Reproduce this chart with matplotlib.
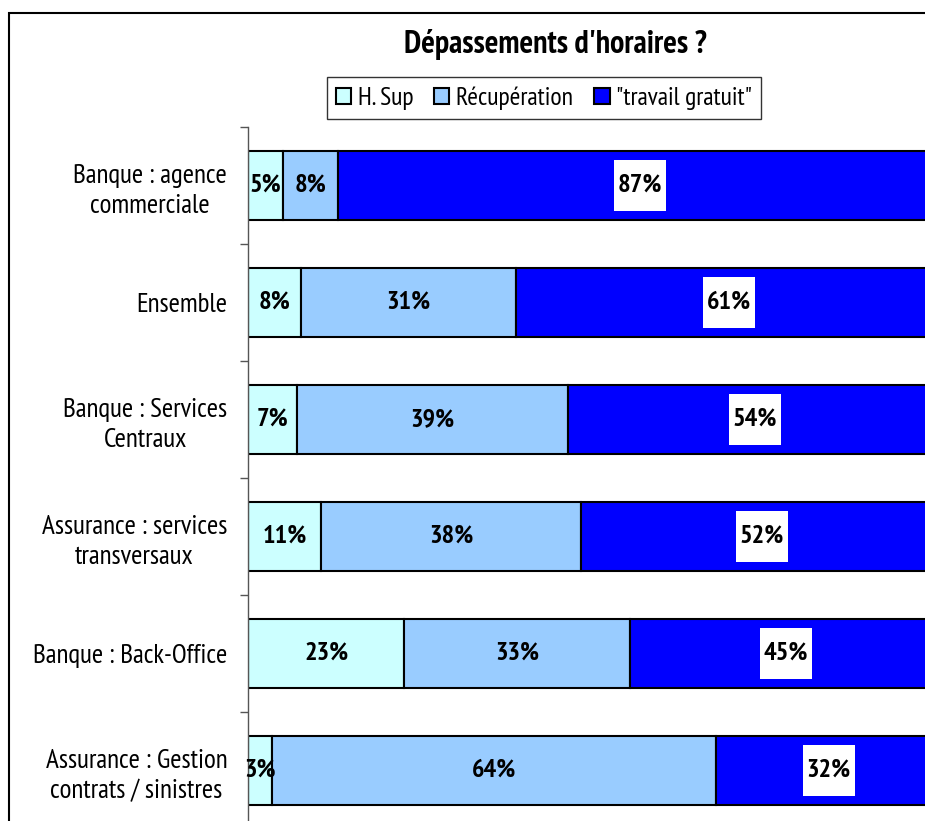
import matplotlib.pyplot as plt
from matplotlib import font_manager
from matplotlib.patches import Rectangle
from matplotlib.ticker import FixedLocator

# pick a narrow sans font close to Arial Narrow, preferring one that has a bold face
wanted = ['Liberation Sans Narrow', 'Arial Narrow', 'Archivo Narrow', 'PT Sans Narrow',
          'Roboto Condensed', 'Pragati Narrow', 'Liberation Sans']
faces = {}
for f in font_manager.fontManager.ttflist:
    faces.setdefault(f.name, set()).add(f.weight)
with_bold = [n for n in wanted if n in faces and any(
    (w if isinstance(w, int) else 700 if w == 'bold' else 400) >= 700 for w in faces[n])]
chosen = (with_bold or [n for n in wanted if n in faces] or ['DejaVu Sans'])[0]
plt.rcParams['font.family'] = [chosen, 'DejaVu Sans']

# data (percent of respondents)
categories = ["Banque : agence\ncommerciale", "Ensemble", "Banque : Services\nCentraux",
              "Assurance : services\ntransversaux", "Banque : Back-Office",
              "Assurance : Gestion\ncontrats / sinistres"]
h_sup = [5.0, 7.6, 7.1, 10.5, 22.5, 3.4]
recup = [8.0, 31.0, 39.0, 37.5, 32.5, 64.1]
gratuit = [87.0, 61.4, 53.9, 52.0, 45.0, 32.4]
series_names = ["H. Sup", "Récupération", "\"travail gratuit\""]
colors = ["#CCFFFF", "#99CCFF", "#0000FF"]

W, H = 925, 821
fig = plt.figure(figsize=(W / 100, H / 100), dpi=100)

# outer chart frame (clipped on right and bottom like the original)
fig.patches.append(Rectangle((9 / W, -0.05), 1.1, 1 - 13 / H + 0.05, transform=fig.transFigure,
                             fill=False, edgecolor='black', linewidth=1.5))

# plot area runs past the right / bottom edge of the picture
ax = fig.add_axes([248 / W, (H - 829) / H, 694 / W, 702 / H])
ax.patch.set_alpha(0)

y = list(range(len(categories)))
left = [0] * len(categories)
for vals, name, col in zip([h_sup, recup, gratuit], series_names, colors):
    bars = ax.barh(y, vals, left=left, height=0.59, color=col, edgecolor='black',
                   linewidth=1.5, label=name)
    for b, v in zip(bars, vals):
        cx = b.get_x() + b.get_width() / 2
        cy = b.get_y() + b.get_height() / 2
        if col == "#0000FF":
            # tall white label box like the Excel original
            ax.add_patch(Rectangle((cx - 3.75, cy - 0.215), 7.5, 0.43, facecolor='white',
                                   edgecolor='none', zorder=3))
        ax.text(cx, cy, f"{int(v + 0.5)}%", ha='center', va='center',
                fontsize=19, fontweight='bold', zorder=4)
    left = [l + v for l, v in zip(left, vals)]

ax.set_xlim(0, 100)
ax.set_ylim(len(categories) - 0.5, -0.5)
ax.set_xticks([])
ax.set_yticks(y)
ax.set_yticklabels(categories, fontsize=19.5)
for lab in ax.get_yticklabels():
    lab.set_multialignment('center')
    lab.set_linespacing(1.3)
ax.tick_params(axis='y', which='major', length=0, pad=15)
ax.yaxis.set_minor_locator(FixedLocator([i - 0.5 for i in range(len(categories) + 1)]))
ax.tick_params(axis='y', which='minor', length=6, width=1, color='#555555', direction='out')
for s in ['top', 'right', 'bottom']:
    ax.spines[s].set_visible(False)
ax.spines['left'].set_color('#555555')
ax.spines['left'].set_linewidth(1)

fig.text(555 / W, 1 - 45 / H, "Dépassements d'horaires ?", ha='center', va='center',
         fontsize=23, fontweight='bold')

leg = fig.legend(loc='center', bbox_to_anchor=(544 / W, 1 - 98 / H), ncol=3, fontsize=18.5,
                 frameon=True, fancybox=False, edgecolor='black', handlelength=0.6,
                 handleheight=0.6, handletextpad=0.25, columnspacing=0.8, borderpad=0.35)
leg.get_frame().set_linewidth(1)

fig.savefig("out.png", dpi=100)
